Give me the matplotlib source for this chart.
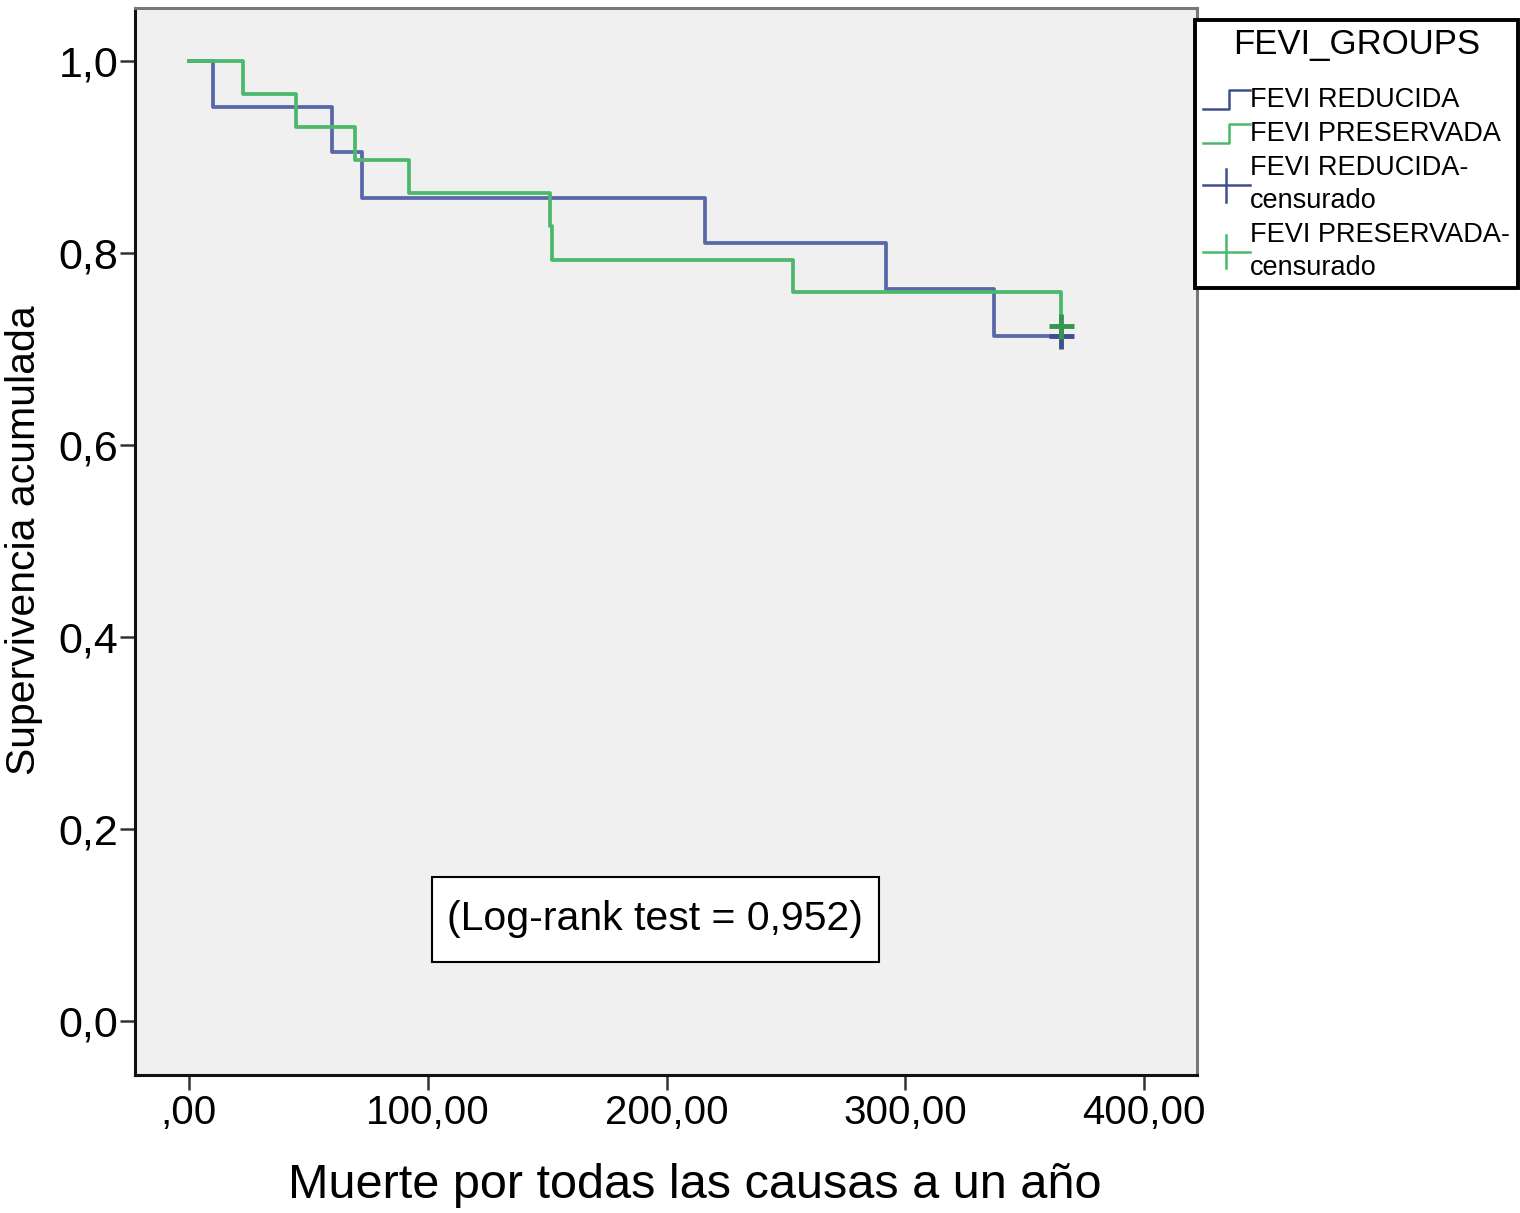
import matplotlib
matplotlib.use("Agg")
import matplotlib.pyplot as plt
from matplotlib.lines import Line2D
from matplotlib.patches import Rectangle
from matplotlib.legend_handler import HandlerBase

plt.rcParams['font.family'] = ['Liberation Sans', 'DejaVu Sans']

# ---- data ----
reducida_t = [0, 10, 60, 72.5, 216, 292, 337, 365]
reducida_s = [1.0, 0.952, 0.905, 0.857, 0.810, 0.762, 0.714, 0.714]
preservada_t = [0, 22.5, 45, 69.5, 92, 151, 152, 253, 365]
preservada_s = [1.0, 0.966, 0.931, 0.897, 0.862, 0.828, 0.793, 0.759, 0.724]
reducida_cens_t = [365]
reducida_cens_s = [0.714]
preservada_cens_t = [365]
preservada_cens_s = [0.724]

xticks = [0, 100, 200, 300, 400]
xticklabels = [',00', '100,00', '200,00', '300,00', '400,00']
yticks = [0.0, 0.2, 0.4, 0.6, 0.8, 1.0]
yticklabels = ['0,0', '0,2', '0,4', '0,6', '0,8', '1,0']

legend_title = 'FEVI_GROUPS'
legend_labels = ['FEVI REDUCIDA', 'FEVI PRESERVADA',
                 'FEVI REDUCIDA-\ncensurado', 'FEVI PRESERVADA-\ncensurado']

blue = '#5867a8'
green = '#4cb86c'
blue_dark = '#3e4f8e'
green_dark = '#35964e'

fig = plt.figure(figsize=(15.2, 12.13), dpi=100)
ax = fig.add_axes([135/1520, 1-1075/1213, (1197-135)/1520, (1075-8)/1213])
ax.set_facecolor('#f0f0f0')

ax.step(reducida_t, reducida_s, where='post', color=blue, lw=2.7)
ax.step(preservada_t, preservada_s, where='post', color=green, lw=2.7)
ax.plot(reducida_cens_t, reducida_cens_s, ls='none', marker='+', ms=18, mew=3.5, color=blue_dark)
ax.plot(preservada_cens_t, preservada_cens_s, ls='none', marker='+', ms=18, mew=3.5, color=green_dark)

ax.set_xlim(-22.6, 422.1)
ax.set_ylim(-0.0563, 1.0552)
ax.set_xticks(xticks)
ax.set_xticklabels(xticklabels, fontsize=29)
ax.set_yticks(yticks)
ax.set_yticklabels(yticklabels, fontsize=31)
ax.tick_params(axis='both', length=11, width=1.8, color='#333333', pad=1)
ax.tick_params(axis='x', pad=3)
for side in ['left', 'bottom']:
    ax.spines[side].set_color('#111111')
    ax.spines[side].set_linewidth(2.2)
for side in ['top', 'right']:
    ax.spines[side].set_color('#777777')
    ax.spines[side].set_linewidth(2.2)

# log-rank annotation box
ax.add_patch(Rectangle((101.8, 0.0615), 187.1, 0.0885, facecolor='white',
                       edgecolor='black', lw=1.5, zorder=3))
ax.text(195.3, 0.1057, '(Log-rank test = 0,952)', fontsize=29.5, ha='center', va='center',
        zorder=4)

fig.text(695/1520, 1-1186/1213, 'Muerte por todas las causas a un año', fontsize=35,
         ha='center', va='center')
fig.text(24/1520, 1-540/1213, 'Supervivencia acumulada', fontsize=29.5, rotation=90,
         ha='center', va='center')


class StepHandler(HandlerBase):
    def create_artists(self, legend, orig_handle, xdescent, ydescent, width, height, fontsize, trans):
        x0 = -xdescent
        y0 = -ydescent
        xs = [x0, x0 + width*0.55, x0 + width*0.55, x0 + width]
        ys = [y0 - height*0.05, y0 - height*0.05, y0 + height*0.85, y0 + height*0.85]
        ln = Line2D(xs, ys, color=orig_handle.get_color(), lw=1.8, transform=trans)
        return [ln]


class CensHandler(HandlerBase):
    def create_artists(self, legend, orig_handle, xdescent, ydescent, width, height, fontsize, trans):
        x0 = -xdescent
        y0 = -ydescent
        yc = y0 + height*0.5
        ln = Line2D([x0, x0 + width], [yc, yc], color=orig_handle.get_color(), lw=1.8, transform=trans)
        tk = Line2D([x0 + width*0.5, x0 + width*0.5], [yc - height*0.8, yc + height*0.8],
                    color=orig_handle.get_color(), lw=1.8, transform=trans)
        return [ln, tk]


class Cens:
    def __init__(self, c):
        self.c = c

    def get_color(self):
        return self.c


h1 = Line2D([], [], color=blue_dark)
h2 = Line2D([], [], color=green)
h3 = Cens(blue_dark)
h4 = Cens(green)

leg = fig.legend([h1, h2, h3, h4], legend_labels, title=legend_title,
                 handler_map={Line2D: StepHandler(), Cens: CensHandler()},
                 loc='upper left', bbox_to_anchor=(1195/1520, 1-20/1213),
                 fontsize=19.5, title_fontsize=25, frameon=True, fancybox=False,
                 borderpad=0.28, handlelength=1.75, handletextpad=0.0, labelspacing=0.3,
                 borderaxespad=0, handleheight=0.8)
leg.get_frame().set_edgecolor('black')
leg.get_frame().set_linewidth(2.8)
leg.get_frame().set_facecolor('white')
leg.get_frame().set_alpha(1)
for t in leg.get_texts():
    t.set_linespacing(1.33)
leg._legend_box.align = 'center'
leg._legend_box.sep = 19
leg._legend_handle_box.align = 'left'

fig.savefig('out.png', dpi=100)
